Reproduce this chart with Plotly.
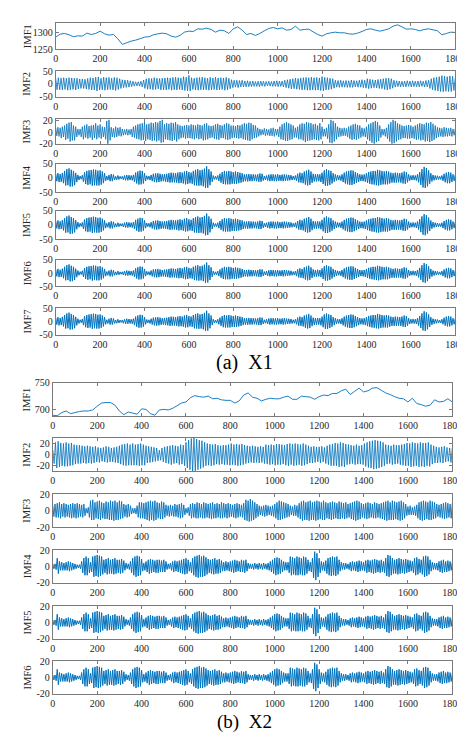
import plotly.graph_objects as go

# ---------------- data ----------------
t5 = list(range(0, 1801, 5))
t6 = list(range(0, 1801, 6))
t20 = list(range(0, 1801, 20))
x_ticks = [0, 200, 400, 600, 800, 1000, 1200, 1400, 1600, 1800]

x1_imf1 = [1287, 1296, 1298, 1294, 1288, 1291, 1290, 1299, 1295, 1298,
           1305, 1297, 1293, 1295, 1282, 1265, 1270, 1275, 1278, 1282,
           1287, 1288, 1294, 1297, 1299, 1297, 1290, 1287, 1292, 1302,
           1305, 1304, 1312, 1311, 1314, 1310, 1302, 1308, 1306, 1298,
           1312, 1318, 1308, 1295, 1298, 1292, 1298, 1306, 1313, 1316,
           1312, 1315, 1308, 1310, 1320, 1308, 1310, 1311, 1303, 1295,
           1290, 1297, 1300, 1302, 1300, 1300, 1297, 1296, 1299, 1304,
           1310, 1312, 1308, 1305, 1308, 1312, 1320, 1324, 1318, 1311,
           1312, 1310, 1306, 1310, 1312, 1309, 1306, 1294, 1298, 1302,
           1301]

x1_imf2 = [20, -23, 24, -23, 23, -24, 24, -22, 22, -25,
           24, -23, 23, -22, 22, -24, 22, -20, 19, -18,
           19, -18, 18, -20, 21, -22, 24, -24, 23, -24,
           26, -28, 27, -24, 22, -23, 26, -25, 24, -23,
           25, -22, 22, -24, 25, -26, 24, -22, 20, -18,
           16, -15, 15, -14, 14, -13, 12, -11, 10, -9,
           8, -8, 8, -9, 10, -12, 15, -18, 20, -21,
           22, -21, 21, -23, 24, -22, 22, -20, 21, -24,
           22, -23, 23, -24, 24, -22, 23, -25, 25, -23,
           26, -24, 24, -22, 23, -24, 28, -26, 26, -27,
           33, -28, 24, -22, 22, -24, 24, -25, 25, -23,
           26, -24, 24, -23, 22, -25, 25, -24, 23, -22,
           26, -24, 23, -24, 24, -22, 23, -25, 25, -23,
           22, -19, 16, -15, 14, -13, 14, -15, 13, -12,
           14, -12, 11, -12, 12, -11, 10, -11, 11, -10,
           9, -10, 10, -11, 11, -9, 10, -10, 9, -8,
           10, -9, 9, -10, 11, -10, 12, -11, 11, -10,
           11, -12, 14, -15, 16, -17, 18, -20, 20, -19,
           22, -21, 21, -22, 23, -24, 24, -23, 25, -25,
           24, -25, 26, -24, 24, -25, 25, -24, 23, -26,
           28, -27, 25, -24, 24, -23, 22, -21, 20, -17,
           14, -13, 13, -14, 14, -13, 12, -13, 13, -14,
           12, -14, 15, -14, 13, -12, 12, -13, 14, -13,
           16, -15, 14, -17, 20, -19, 18, -17, 16, -15,
           15, -16, 17, -18, 18, -19, 20, -22, 22, -24,
           22, -21, 20, -17, 14, -13, 12, -11, 11, -12,
           10, -11, 11, -12, 12, -10, 11, -12, 12, -11,
           10, -11, 11, -12, 12, -10, 10, -12, 13, -12,
           14, -18, 20, -23, 24, -26, 26, -28, 28, -30,
           32, -31, 30, -29, 28, -30, 31, -30, 29, -26,
           22]

x1_imf3 = [8, -6, 9, -7, 8, -10, 10, -8, 12, -13,
           15, -11, 17, -16, 18, -14, 12, -14, 10, -8,
           6, -5, 6, -8, 10, -12, 12, -9, 14, -11,
           11, -9, 12, -13, 13, -10, 16, -12, 12, -9,
           14, -11, 10, -8, 9, -12, 20, -21, 22, -14,
           9, -8, 7, -9, 10, -8, 8, -6, 9, -7,
           6, -5, 5, -4, 6, -5, 5, -4, 6, -8,
           10, -9, 12, -11, 14, -12, 15, -14, 16, -13,
           18, -15, 14, -12, 15, -13, 17, -15, 16, -14,
           18, -16, 17, -14, 20, -18, 22, -17, 14, -12,
           16, -13, 15, -14, 17, -15, 16, -13, 18, -16,
           14, -12, 12, -10, 11, -9, 12, -11, 13, -10,
           12, -10, 14, -11, 13, -12, 12, -10, 14, -12,
           13, -11, 12, -14, 15, -13, 16, -12, 12, -10,
           11, -9, 12, -11, 14, -12, 15, -13, 13, -10,
           12, -10, 14, -12, 16, -13, 15, -12, 12, -10,
           12, -9, 11, -10, 13, -11, 12, -10, 14, -12,
           16, -13, 15, -14, 17, -15, 16, -12, 13, -10,
           12, -9, 8, -7, 6, -5, 5, -4, 7, -6,
           6, -5, 5, -6, 7, -6, 8, -7, 6, -5,
           6, -8, 10, -12, 14, -13, 16, -15, 18, -15,
           16, -13, 14, -12, 12, -9, 8, -9, 10, -12,
           14, -12, 16, -14, 15, -17, 18, -15, 17, -14,
           16, -13, 14, -12, 15, -13, 12, -14, 16, -12,
           10, -7, 6, -7, 8, -11, 14, -18, 22, -19,
           20, -16, 16, -12, 10, -8, 8, -7, 7, -6,
           8, -6, 7, -8, 10, -11, 12, -13, 14, -12,
           15, -13, 13, -11, 12, -9, 8, -7, 7, -8,
           10, -12, 14, -15, 16, -18, 18, -20, 20, -17,
           18, -15, 12, -9, 6, -5, 6, -7, 8, -11,
           14, -16, 18, -20, 22, -19, 20, -16, 16, -13,
           14, -12, 12, -10, 11, -10, 12, -11, 13, -11,
           12, -10, 10, -11, 12, -13, 14, -12, 16, -14,
           15, -13, 14, -16, 17, -15, 16, -17, 18, -15,
           15, -13, 12, -10, 9, -8, 8, -7, 7, -8,
           9, -7, 8, -7, 7, -6, 8, -7, 6, -5,
           6]

x1_imf4 = [14, -12, 16, -15, 13, -14, 17, -19, 24, -27,
           30, -26, 33, -31, 28, -30, 24, -26, 17, -15,
           10, -8, 6, -5, 9, -14, 19, -22, 24, -25,
           26, -23, 27, -28, 29, -26, 28, -27, 25, -27,
           26, -24, 22, -19, 16, -11, 6, -8, 10, -12,
           13, -12, 11, -8, 5, -7, 8, -6, 5, -4,
           5, -7, 8, -9, 10, -9, 9, -8, 8, -9,
           10, -14, 18, -20, 22, -24, 25, -23, 24, -20,
           16, -11, 7, -6, 6, -8, 10, -12, 14, -15,
           15, -16, 16, -15, 14, -13, 12, -12, 13, -14,
           14, -15, 16, -17, 18, -16, 17, -16, 16, -17,
           18, -19, 20, -18, 18, -20, 22, -23, 24, -22,
           20, -19, 18, -21, 24, -26, 28, -27, 30, -28,
           26, -27, 28, -30, 32, -36, 40, -35, 30, -26,
           22, -14, 8, -6, 5, -6, 8, -11, 14, -17,
           20, -22, 24, -23, 22, -23, 24, -23, 22, -21,
           20, -21, 22, -21, 20, -19, 18, -17, 16, -14,
           12, -12, 12, -13, 13, -12, 12, -12, 12, -11,
           11, -12, 12, -14, 15, -14, 14, -10, 6, -7,
           8, -10, 11, -12, 12, -11, 12, -12, 11, -12,
           12, -11, 10, -11, 11, -12, 12, -11, 11, -10,
           10, -9, 9, -8, 6, -7, 8, -11, 14, -16,
           18, -17, 16, -19, 22, -24, 25, -27, 28, -25,
           22, -18, 14, -13, 12, -13, 13, -12, 12, -15,
           18, -22, 26, -28, 30, -28, 26, -25, 24, -20,
           16, -14, 12, -10, 9, -8, 8, -10, 12, -15,
           18, -20, 22, -23, 24, -25, 26, -25, 25, -22,
           20, -18, 16, -14, 12, -11, 11, -12, 12, -14,
           16, -18, 20, -21, 22, -23, 24, -24, 24, -26,
           28, -27, 26, -25, 24, -23, 22, -23, 24, -23,
           22, -20, 18, -17, 16, -17, 18, -17, 17, -16,
           16, -17, 18, -20, 22, -21, 20, -16, 12, -10,
           8, -8, 9, -8, 8, -10, 12, -16, 20, -25,
           30, -34, 38, -36, 34, -30, 26, -21, 16, -13,
           10, -9, 8, -7, 7, -6, 5, -6, 8, -11,
           14, -16, 18, -19, 20, -19, 18, -15, 12, -11,
           10]
x1_imf5 = x1_imf4
x1_imf6 = x1_imf4
x1_imf7 = x1_imf4

x2_imf1 = [689, 688, 694, 697, 692, 694, 696, 697, 697, 699,
           706, 712, 713, 713, 708, 697, 690, 695, 693, 691,
           701, 700, 692, 689, 699, 700, 699, 702, 707, 712,
           714, 722, 726, 724, 723, 725, 720, 721, 718, 717,
           717, 712, 716, 727, 731, 723, 721, 716, 719, 721,
           720, 720, 723, 725, 719, 719, 725, 724, 723, 719,
           724, 727, 726, 730, 730, 735, 738, 728, 734, 740,
           733, 735, 740, 741, 736, 731, 728, 724, 721, 720,
           714, 721, 711, 709, 706, 708, 718, 714, 715, 720,
           714]

x2_imf2 = [8, -16, 22, -24, 24, -22, 21, -20, 20, -21,
           22, -21, 20, -20, 21, -19, 18, -17, 17, -16,
           17, -16, 16, -15, 15, -16, 16, -15, 15, -16,
           14, -15, 15, -13, 13, -14, 12, -12, 13, -13,
           15, -14, 14, -13, 12, -13, 13, -14, 14, -15,
           16, -17, 18, -19, 19, -20, 20, -19, 18, -19,
           20, -19, 18, -19, 19, -20, 20, -19, 18, -19,
           16, -15, 15, -14, 14, -13, 13, -12, 12, -11,
           8, -10, 12, -13, 14, -15, 15, -16, 16, -18,
           17, -16, 16, -15, 15, -18, 18, -17, 17, -20,
           22, -24, 26, -27, 29, -30, 30, -29, 28, -27,
           26, -25, 25, -23, 22, -20, 20, -19, 19, -20,
           18, -19, 19, -17, 17, -18, 16, -17, 17, -18,
           17, -18, 18, -19, 20, -18, 18, -19, 19, -20,
           18, -19, 19, -18, 17, -16, 16, -15, 15, -14,
           16, -15, 15, -14, 14, -15, 15, -14, 14, -16,
           18, -17, 17, -18, 18, -17, 17, -19, 19, -18,
           19, -18, 18, -17, 17, -19, 19, -20, 20, -18,
           19, -20, 20, -19, 19, -18, 18, -20, 20, -19,
           18, -17, 16, -15, 14, -15, 15, -14, 14, -13,
           14, -15, 15, -13, 13, -16, 16, -18, 18, -20,
           19, -20, 21, -20, 20, -22, 22, -21, 21, -22,
           19, -18, 18, -17, 17, -16, 16, -18, 18, -17,
           16, -17, 17, -18, 20, -21, 22, -23, 24, -24,
           25, -26, 26, -25, 25, -24, 24, -22, 22, -20,
           18, -17, 17, -16, 16, -18, 18, -17, 17, -16,
           17, -18, 18, -19, 19, -20, 21, -20, 20, -22,
           22, -21, 21, -20, 20, -22, 22, -21, 21, -22,
           21, -20, 22, -21, 18, -17, 16, -15, 14, -15,
           13, -14, 14, -15, 15, -13, 13, -12, 12, -14,
           12]

x2_imf3 = [6, -7, 8, -8, 9, -8, 10, -9, 8, -7,
           9, -8, 8, -7, 7, -8, 8, -9, 9, -8,
           8, -9, 9, -8, 8, -7, 7, -8, 8, -6,
           3, -3, 4, -8, 12, -11, 13, -11, 10, -9,
           11, -10, 12, -11, 10, -9, 9, -10, 11, -10,
           10, -11, 12, -11, 11, -12, 12, -11, 10, -11,
           12, -10, 11, -9, 8, -7, 7, -8, 8, -7,
           6, -4, 3, -3, 3, -4, 6, -8, 10, -9,
           10, -9, 9, -10, 10, -11, 11, -12, 12, -11,
           11, -12, 12, -11, 10, -9, 9, -10, 11, -10,
           10, -8, 7, -6, 6, -7, 7, -6, 6, -7,
           8, -7, 7, -8, 8, -9, 9, -8, 7, -5,
           3, -3, 4, -6, 8, -9, 9, -8, 8, -9,
           10, -9, 9, -8, 8, -9, 10, -9, 9, -8,
           8, -9, 9, -10, 10, -9, 8, -9, 9, -8,
           8, -9, 10, -9, 9, -8, 8, -9, 9, -8,
           8, -7, 7, -8, 8, -9, 9, -8, 8, -7,
           7, -8, 9, -11, 13, -12, 12, -13, 14, -12,
           12, -11, 10, -9, 8, -7, 6, -5, 5, -6,
           6, -7, 7, -6, 6, -5, 5, -6, 6, -7,
           8, -9, 10, -11, 12, -11, 11, -10, 10, -9,
           9, -8, 8, -7, 6, -5, 5, -6, 7, -6,
           6, -8, 9, -10, 11, -12, 12, -11, 10, -11,
           11, -12, 12, -11, 10, -11, 11, -12, 12, -11,
           11, -10, 10, -11, 12, -11, 10, -9, 9, -10,
           10, -11, 11, -10, 10, -9, 9, -10, 11, -10,
           10, -9, 9, -10, 10, -9, 8, -8, 9, -10,
           10, -11, 11, -12, 12, -11, 11, -10, 9, -8,
           8, -9, 9, -10, 10, -9, 9, -8, 8, -9,
           10, -9, 9, -8, 8, -9, 9, -10, 10, -11,
           11, -12, 12, -11, 10, -11, 12, -11, 11, -10,
           10, -11, 11, -12, 12, -11, 10, -9, 8, -6,
           5, -5, 6, -5, 4, -5, 5, -6, 7, -9,
           10, -11, 11, -12, 12, -11, 11, -10, 10, -11,
           12, -11, 11, -10, 10, -9, 8, -7, 7, -8,
           8, -9, 9, -10, 10, -9, 9, -8, 8, -9,
           9]

x2_imf4 = [3, -3, 3, -4, 10, -9, 6, -5, 5, -5,
           4, -5, 5, -5, 6, -6, 5, -5, 4, -4,
           3, -3, 2, -2, 2, -3, 6, -8, 10, -11,
           12, -11, 10, -8, 5, -7, 12, -13, 13, -12,
           14, -13, 13, -12, 12, -10, 8, -8, 9, -10,
           10, -9, 8, -9, 9, -10, 10, -9, 8, -8,
           8, -9, 9, -8, 7, -5, 4, -3, 3, -4,
           6, -8, 10, -11, 12, -13, 13, -12, 12, -11,
           9, -6, 4, -5, 6, -7, 8, -9, 9, -8,
           8, -7, 7, -8, 8, -8, 8, -7, 7, -7,
           8, -7, 6, -4, 3, -3, 4, -5, 6, -7,
           7, -6, 6, -7, 7, -8, 8, -9, 9, -10,
           10, -9, 8, -6, 5, -8, 10, -11, 12, -13,
           13, -14, 14, -13, 12, -13, 13, -12, 11, -10,
           9, -8, 8, -9, 9, -10, 10, -9, 8, -9,
           9, -8, 7, -6, 5, -6, 6, -5, 5, -6,
           6, -7, 7, -8, 8, -7, 7, -6, 6, -7,
           8, -7, 7, -8, 8, -6, 4, -3, 3, -3,
           3, -4, 4, -3, 3, -4, 4, -3, 3, -4,
           4, -3, 3, -4, 4, -5, 6, -7, 8, -9,
           10, -11, 11, -10, 10, -9, 8, -7, 6, -5,
           5, -5, 5, -8, 12, -11, 11, -10, 10, -11,
           12, -11, 11, -10, 10, -11, 12, -11, 11, -9,
           8, -6, 5, -7, 10, -14, 18, -17, 16, -13,
           10, -8, 6, -5, 5, -6, 7, -9, 10, -11,
           11, -12, 12, -11, 11, -12, 12, -10, 8, -6,
           5, -4, 4, -4, 4, -3, 3, -4, 5, -6,
           6, -5, 5, -6, 6, -7, 7, -6, 6, -5,
           5, -6, 7, -8, 8, -7, 7, -8, 8, -9,
           9, -8, 8, -7, 7, -8, 8, -7, 6, -8,
           10, -12, 14, -13, 13, -11, 10, -9, 8, -9,
           9, -10, 10, -9, 9, -8, 8, -9, 9, -8,
           8, -7, 7, -6, 6, -8, 10, -11, 11, -10,
           9, -8, 8, -10, 12, -13, 13, -12, 12, -10,
           8, -6, 5, -4, 4, -4, 4, -5, 6, -7,
           7, -8, 8, -7, 6, -7, 7, -6, 6, -5,
           5]
x2_imf5 = x2_imf4
x2_imf6 = x2_imf4

labels_x1 = ["IMF1", "IMF2", "IMF3", "IMF4", "IMF5", "IMF6", "IMF7"]
labels_x2 = ["IMF1", "IMF2", "IMF3", "IMF4", "IMF5", "IMF6"]
captions = ["(a)\u00a0\u00a0X1", "(b)\u00a0\u00a0X2"]

# ---------------- layout description ----------------
W, H = 465, 732
FONT = "Liberation Serif, Times New Roman, serif"
LINE = "#0072BD"
AX = "#7a7a7a"

panels = [
    # (t, y, yrange, yticks, label, x0px, x1px, top px, bottom px, line width)
    (t20, x1_imf1, [1250, 1330], [1250, 1300], labels_x1[0], 46, 457, 9, 36, 0.9),
    (t6, x1_imf2, [-50, 50], [-50, 0, 50], labels_x1[1], 46, 457, 58, 84, 0.8),
    (t5, x1_imf3, [-20, 23], [-20, 0, 20], labels_x1[2], 46, 457, 107, 132, 0.8),
    (t5, x1_imf4, [-50, 50], [-50, 0, 50], labels_x1[3], 46, 457, 152, 181, 1.0),
    (t5, x1_imf5, [-50, 50], [-50, 0, 50], labels_x1[4], 46, 457, 200, 229, 1.0),
    (t5, x1_imf6, [-50, 50], [-50, 0, 50], labels_x1[5], 46, 457, 250, 277, 1.0),
    (t5, x1_imf7, [-50, 50], [-50, 0, 50], labels_x1[6], 46, 457, 299, 326, 1.0),
    (t20, x2_imf1, [687, 750], [700, 750], labels_x2[0], 43, 454, 375, 409, 0.9),
    (t6, x2_imf2, [-30, 30], [-20, 0, 20], labels_x2[1], 43, 454, 431, 465, 0.8),
    (t5, x2_imf3, [-20, 20], [-20, 0, 20], labels_x2[2], 43, 454, 488, 522, 0.9),
    (t5, x2_imf4, [-20, 20], [-20, 0, 20], labels_x2[3], 43, 454, 545, 578, 1.0),
    (t5, x2_imf5, [-20, 20], [-20, 0, 20], labels_x2[4], 43, 454, 602, 635, 1.0),
    (t5, x2_imf6, [-20, 20], [-20, 0, 20], labels_x2[5], 43, 454, 658, 691, 1.0),
]

fig = go.Figure()
annotations = []
common = dict(showline=True, linecolor=AX, linewidth=1, mirror="allticks",
              ticks="inside", ticklen=3, tickwidth=1, tickcolor=AX,
              showgrid=False, zeroline=False,
              tickfont=dict(family=FONT, size=10, color="#262626"))

for k, (t, y, yr, yt, lab, x0, x1, top, bot, lw) in enumerate(panels):
    s = "" if k == 0 else str(k + 1)
    fig.add_trace(go.Scatter(x=t, y=y, mode="lines",
                             line=dict(color=LINE, width=lw, simplify=False),
                             xaxis="x" + s, yaxis="y" + s,
                             showlegend=False, hoverinfo="skip"))
    fig.update_layout(**{
        "xaxis" + s: dict(domain=[x0 / W, x1 / W], anchor="y" + s,
                          range=[0, 1800], tickvals=x_ticks,
                          ticktext=[str(v) for v in x_ticks], **common),
        "yaxis" + s: dict(domain=[1 - bot / H, 1 - top / H], anchor="x" + s,
                          range=yr, tickvals=yt,
                          ticktext=[str(v) for v in yt], **common),
    })
    annotations.append(dict(text=lab, textangle=-90, xref="paper", yref="paper",
                            x=16.5 / W, y=1 - (top + bot) / 2 / H,
                            xanchor="center", yanchor="middle", showarrow=False,
                            font=dict(family=FONT, size=10.5, color="#262626")))

annotations.append(dict(text=captions[0], xref="paper", yref="paper",
                        x=240 / W, y=1 - 354 / H, xanchor="center", yanchor="middle",
                        showarrow=False, borderpad=0,
                        font=dict(family=FONT, size=20, color="#000")))
annotations.append(dict(text=captions[1], xref="paper", yref="paper",
                        x=240 / W, y=1 - 720 / H, xanchor="center", yanchor="middle",
                        showarrow=False, borderpad=0,
                        font=dict(family=FONT, size=19, color="#000")))

fig.update_layout(width=W, height=H, margin=dict(l=0, r=0, t=0, b=0),
                  paper_bgcolor="white", plot_bgcolor="white",
                  annotations=annotations)

fig.write_html("out.html")
